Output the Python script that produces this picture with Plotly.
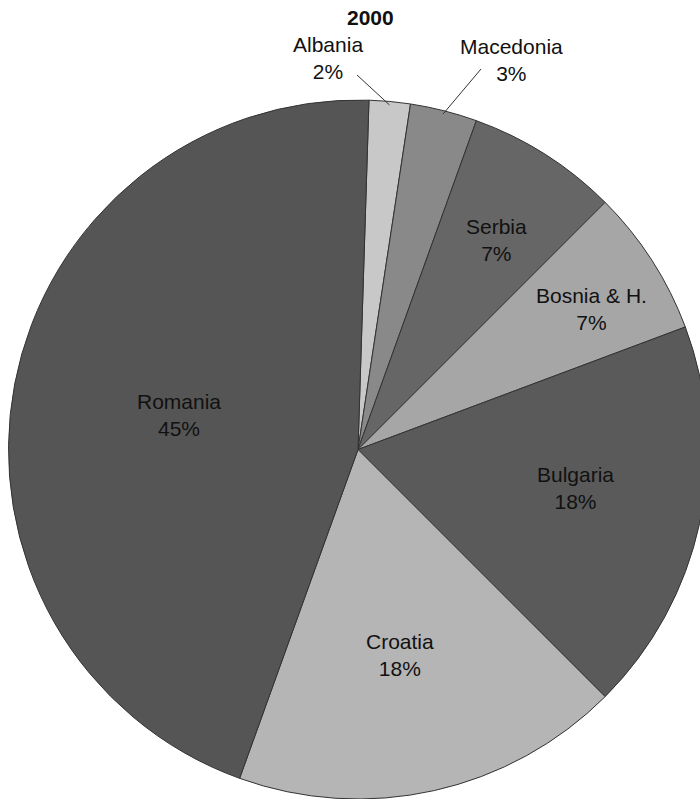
import math
import plotly.graph_objects as go

# ---- data ----
countries = ["Albania", "Macedonia", "Serbia", "Bosnia & H.", "Bulgaria", "Croatia", "Romania"]
shares = [1.9, 3.1, 7.0, 6.8, 18.2, 18.0, 45.0]
colors = ["#c8c8c8", "#898989", "#666666", "#a6a6a6", "#5a5a5a", "#b5b5b5", "#555555"]
outside_labels = ["Albania", "Macedonia"]
title_text = "2000"

# ---- layout / style (not data) ----
W, H = 708, 799          # the pie is clipped by the 700px window on the right, as in the original
FONT = "Liberation Sans, Arial, Helvetica, sans-serif"
FS = 21
TXT = "#111111"

dom_x = [8 / W, 1.0]
dom_y = [0.0, 1 - 100 / H]
rotation = 1.8

# inside labels: (radius fraction, angle nudge in degrees) relative to each slice's mid-angle
inside_label_place = {"Serbia": (0.72, 1.1), "Bosnia & H.": (0.78, 1.8), "Bulgaria": (0.633, -2.2),
                      "Croatia": (0.60, 1.0), "Romania": (0.52, 0.0)}
# outside labels: text position and leader-line start (px)
label_pos = {"Albania": (328, 58), "Macedonia": (511, 60)}
line_start = {"Albania": (357, 75), "Macedonia": (481, 69)}

fig = go.Figure(go.Pie(
    labels=countries,
    values=shares,
    sort=False,
    direction="clockwise",
    rotation=rotation,
    marker=dict(colors=colors, line=dict(color="#333333", width=1)),
    textinfo="none",
    hoverinfo="label+percent",
    domain=dict(x=dom_x, y=dom_y),
    showlegend=False,
))

# pie geometry in pixels (as plotly lays it out)
cx = W * (dom_x[0] + dom_x[1]) / 2
cy = H * (1 - (dom_y[0] + dom_y[1]) / 2)
r = min(W * (dom_x[1] - dom_x[0]), H * (dom_y[1] - dom_y[0])) / 2

total = sum(shares)
cum = 0.0
for c, v in zip(countries, shares):
    mid_deg = rotation + (cum + v / 2) / total * 360
    cum += v
    pct = round(v / total * 100)
    text = f"{c}<br>{pct}%"
    if c in outside_labels:
        mid = math.radians(mid_deg)
        tx = cx + 0.99 * r * math.sin(mid)
        ty = cy - 0.99 * r * math.cos(mid)
        sx, sy = line_start[c]
        fig.add_shape(type="line", xref="paper", yref="paper",
                      x0=sx / W, y0=1 - sy / H, x1=tx / W, y1=1 - ty / H,
                      line=dict(color="#333333", width=1))
        lx, ly = label_pos[c]
    else:
        f, nudge = inside_label_place[c]
        a = math.radians(mid_deg + nudge)
        lx = cx + f * r * math.sin(a)
        ly = cy - f * r * math.cos(a)
    fig.add_annotation(x=lx / W, y=1 - ly / H, xref="paper", yref="paper",
                       text=text, showarrow=False,
                       xanchor="center", yanchor="middle",
                       font=dict(family=FONT, size=FS, color=TXT))

fig.add_annotation(x=370 / W, y=1 - 17 / H, xref="paper", yref="paper",
                   text=f"<b>{title_text}</b>", showarrow=False,
                   xanchor="center", yanchor="middle",
                   font=dict(family=FONT, size=FS, color=TXT))

fig.update_layout(
    width=W, height=H,
    margin=dict(l=0, r=0, t=0, b=0),
    paper_bgcolor="white", plot_bgcolor="white",
)

fig.write_html(
    "out.html",
    post_script="document.documentElement.style.overflow='hidden';document.body.style.overflow='hidden';",
)
